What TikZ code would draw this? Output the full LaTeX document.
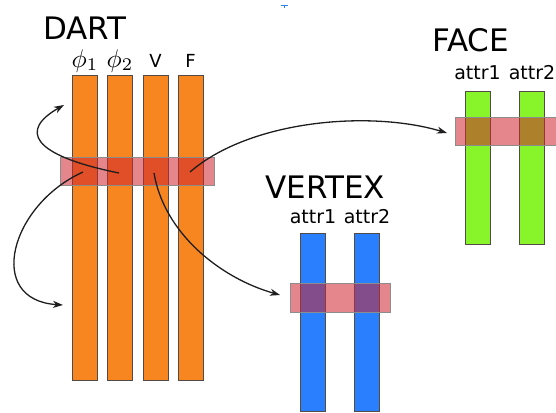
\documentclass[tikz,border=0pt]{standalone}
\usepackage{fontspec}
\setmainfont{DejaVu Sans}
\usetikzlibrary{arrows.meta}
\definecolor{dorange}{RGB}{248,134,32}
\definecolor{vblue}{RGB}{42,127,255}
\definecolor{fgreen}{RGB}{135,245,42}
\definecolor{bandred}{RGB}{205,35,45}
\definecolor{edgec}{RGB}{85,75,70}
\definecolor{arrc}{RGB}{30,30,30}
\tikzset{
  bar/.style={draw=edgec, line width=0.8pt, inner sep=0pt, outer sep=0pt, minimum width=25pt},
  dbar/.style={bar, fill=dorange, minimum height=305pt},
  vbar/.style={bar, fill=vblue, minimum height=178pt},
  fbar/.style={bar, fill=fgreen, minimum height=153pt},
  band/.style={draw=black!45, line width=0.6pt, fill=bandred, fill opacity=0.55, inner sep=0pt, outer sep=0pt, minimum height=28pt},
  title/.style={font=\fontsize{31}{31}\selectfont, inner sep=0pt, anchor=base west},
  attr/.style={font=\fontsize{19}{19}\selectfont, inner sep=0pt, anchor=base},
  philabel/.style={inner sep=0pt, anchor=base, font=\normalsize, scale=2.55},
  conn/.style={draw=arrc, line width=1.3pt, -{Stealth[length=10pt,width=7pt,inset=3pt]}}
}
\begin{document}
\begin{tikzpicture}[x=1pt,y=-1pt]
\useasboundingbox (0,0) rectangle (556,412);
% titles
\node[title] (tdart) at (43,40) {DART};
\node[title] (tvertex) at (265,198) {VERTEX};
\node[title] (tface) at (432,52) {FACE};
% dart labels
\node[philabel] (lphi1) at (85,67) {$\phi_1$};
\node[philabel] (lphi2) at (120,67) {$\phi_2$};
\node[attr, font=\fontsize{18}{18}\selectfont] (lv) at (155.5,67) {V};
\node[attr, font=\fontsize{18}{18}\selectfont] (lf) at (190.5,67) {F};
% vertex / face labels
\node[attr] (va1) at (313,223) {attr1};
\node[attr] (va2) at (367,223) {attr2};
\node[attr] (fa1) at (477.5,79) {attr1};
\node[attr] (fa2) at (532,79) {attr2};
% bars
\node[dbar] (d1) at (84.5,227.5) {};
\node[dbar] (d2) at (119.5,227.5) {};
\node[dbar] (d3) at (155.5,227.5) {};
\node[dbar] (d4) at (190.5,227.5) {};
\node[vbar] (v1) at (313,322.5) {};
\node[vbar] (v2) at (367,322.5) {};
\node[fbar] (f1) at (477.5,167.5) {};
\node[fbar] (f2) at (532,167.5) {};
% bands
\node[band, minimum width=154pt] (bd) at (137,171) {};
\node[band, minimum width=100pt, minimum height=29pt] (bv) at (340,297.5) {};
\node[band, minimum width=104pt] (bf) at (507,131) {};
% connector end points
\coordinate (s1) at (119,173);
\coordinate (e1) at (64,105);
\coordinate (s2) at (83,172);
\coordinate (e2) at (63,305);
\coordinate (s3) at (154,173);
\coordinate (e3) at (280,295);
\coordinate (s4) at (190,172);
\coordinate (e4) at (447,133);
% connectors
\draw[conn] (s1) .. controls (30,155) and (20,130) .. (e1);
\draw[conn] (s2) .. controls (10,205) and (-15,300) .. (e2);
\draw[conn] (s3) .. controls (164,233) and (220,278) .. (e3);
\draw[conn] (s4) .. controls (250,120) and (370,110) .. (e4);
% small blue mark at top
\draw[vblue, line width=1pt] (281,6) -- (288,6) (284.5,6) -- (284.5,8);
\end{tikzpicture}
\end{document}
